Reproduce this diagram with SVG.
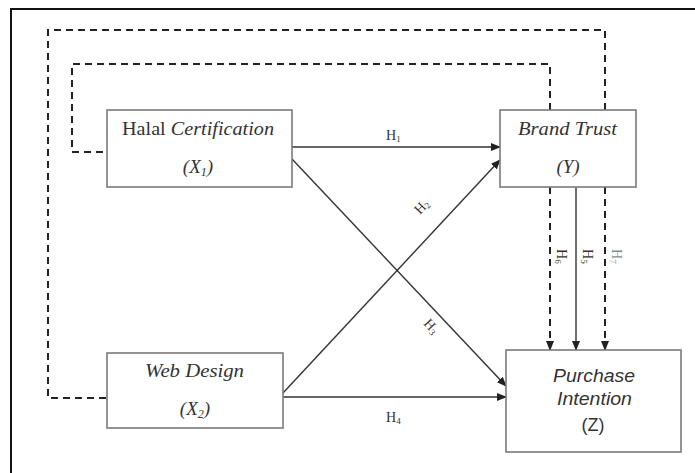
<svg xmlns="http://www.w3.org/2000/svg" width="695" height="473" viewBox="0 0 695 473">
<style>
.box{fill:#fff;stroke:#7a7a7a;stroke-width:1.6}
.serif{font-family:"Liberation Serif","DejaVu Serif",serif;fill:#333}
.sans{font-family:"Liberation Sans",Arial,sans-serif;fill:#333}
.t{font-size:19px}
.lbl{font-size:14px}
.sub{font-size:9px}
.solid{fill:none;stroke:#333;stroke-width:1.4}
.dash{fill:none;stroke:#222;stroke-width:2;stroke-dasharray:7,5}
</style>
<defs>
<marker id="ah" markerWidth="10" markerHeight="8" refX="9" refY="4" orient="auto" markerUnits="userSpaceOnUse">
<path d="M0,0 L10,4 L0,8 Z" fill="#222"/>
</marker>
</defs>
<rect x="0" y="0" width="695" height="473" fill="#fff"/>
<rect x="11" y="9" width="700" height="500" fill="none" stroke="#111" stroke-width="2"/>

<g id="connectors">
<path class="dash" d="M605,110 V30 H48 V398 H107"/>
<path class="dash" d="M550,110 V64 H72 V152 H107"/>
<line class="solid" x1="292" y1="147" x2="500" y2="147" marker-end="url(#ah)"/>
<line class="solid" x1="283" y1="393" x2="500" y2="160" marker-end="url(#ah)"/>
<line class="solid" x1="292" y1="159" x2="506" y2="386" marker-end="url(#ah)"/>
<line class="solid" x1="283" y1="397" x2="506" y2="397" marker-end="url(#ah)"/>
<line class="dash" x1="550" y1="187" x2="550" y2="350" marker-end="url(#ah)"/>
<line class="solid" x1="576" y1="187" x2="576" y2="350" marker-end="url(#ah)"/>
<line class="dash" x1="605" y1="187" x2="605" y2="350" marker-end="url(#ah)"/>
<text class="serif lbl" x="386" y="140">H<tspan class="sub" dy="2">1</tspan></text>
<text class="serif lbl" x="386" y="422">H<tspan class="sub" dy="2">4</tspan></text>
<text class="serif lbl" transform="translate(420,215) rotate(-47)">H<tspan class="sub" dy="2">2</tspan></text>
<text class="serif lbl" transform="translate(423,324) rotate(47)">H<tspan class="sub" dy="2">3</tspan></text>
<text class="serif lbl" transform="translate(557,249) rotate(90)">H<tspan class="sub" dy="2">6</tspan></text>
<text class="serif lbl" transform="translate(583,249) rotate(90)">H<tspan class="sub" dy="2">5</tspan></text>
<text class="serif lbl" transform="translate(612,249) rotate(90)" fill-opacity="0.6">H<tspan class="sub" dy="2">7</tspan></text>
</g>

<g id="halal">
<rect class="box" x="107" y="110" width="185" height="77"/>
<text class="serif t" x="122" y="135" textLength="152" lengthAdjust="spacingAndGlyphs">Halal <tspan font-style="italic">Certification</tspan></text>
<text class="serif t" x="198" y="173" text-anchor="middle" font-style="italic">(X<tspan font-size="12" dy="3">1</tspan><tspan dy="-3">)</tspan></text>
</g>

<g id="webdesign">
<rect class="box" x="107" y="353" width="176" height="75"/>
<text class="serif t" x="145" y="377" font-style="italic" textLength="99" lengthAdjust="spacingAndGlyphs">Web Design</text>
<text class="serif t" x="195" y="415" text-anchor="middle" font-style="italic">(X<tspan font-size="12" dy="3">2</tspan><tspan dy="-3">)</tspan></text>
</g>

<g id="brandtrust">
<rect class="box" x="500" y="110" width="136" height="77"/>
<text class="serif t" x="518" y="135" font-style="italic" textLength="99" lengthAdjust="spacingAndGlyphs">Brand Trust</text>
<text class="serif t" x="568" y="173" text-anchor="middle" font-style="italic">(Y)</text>
</g>

<g id="purchase">
<rect class="box" x="506" y="350" width="175" height="102"/>
<text class="sans" font-size="18" x="553" y="382" font-style="italic" textLength="82" lengthAdjust="spacingAndGlyphs">Purchase</text>
<text class="sans" font-size="18" x="557" y="405" font-style="italic" textLength="75" lengthAdjust="spacingAndGlyphs">Intention</text>
<text class="sans" font-size="18" x="593" y="431" text-anchor="middle">(Z)</text>
</g>
</svg>
